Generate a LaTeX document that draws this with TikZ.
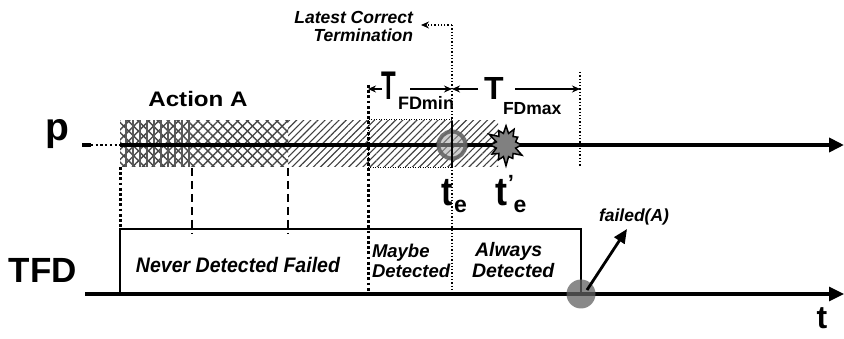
\documentclass[tikz,border=0pt]{standalone}
\usepackage{fontspec}
\setmainfont{Liberation Sans}
\usetikzlibrary{arrows.meta,patterns.meta,shapes.symbols}
\tikzset{
  fs/.style={font=\fontsize{#1}{#1}\selectfont\bfseries},
  fsi/.style={font=\fontsize{#1}{#1}\selectfont\bfseries\itshape},
  lbl/.style={inner sep=0pt, outer sep=0pt},
  thickdot/.style={line width=3pt, dash pattern=on 2.8pt off 2.4pt},
  thindot/.style={line width=1.3pt, dash pattern=on 1.3pt off 2pt},
  thindash/.style={line width=1.1pt, dash pattern=on 8pt off 5pt},
  axisp/.style={line width=4.5pt, -{Triangle[length=15pt,width=14pt]}},
  axist/.style={line width=3.2pt, -{Triangle[length=15pt,width=14pt]}},
  dimarrow/.style={line width=1.1pt, -{Stealth[length=8pt,width=7pt]}},
}
\newcommand{\subE}{\raisebox{-7pt}{\fontsize{23}{23}\selectfont e}}
\begin{document}
\begin{tikzpicture}[x=1pt,y=-1pt]
\useasboundingbox (0,0) rectangle (844,339);

% key coordinates
\coordinate (p0) at (120,145);
\coordinate (pend) at (844,145);
\coordinate (pdash0) at (82,145);
\coordinate (pdash1) at (91,145);
\coordinate (t0) at (85,294);
\coordinate (tend) at (844,294);
\coordinate (boxbl) at (120,294);
\coordinate (boxtl) at (120,229);
\coordinate (boxtr) at (581,229);
\coordinate (boxbr) at (581,294);

% hatching
\fill[pattern={Lines[angle=45,distance=5pt,line width=1.1pt]}, pattern color=black!75] (288,121) rectangle (498,167);
\fill[pattern={Lines[angle=45,distance=7pt,line width=1.4pt]}, pattern color=black!72] (120,121) rectangle (288,167);
\fill[pattern={Lines[angle=-45,distance=7pt,line width=1.4pt]}, pattern color=black!72] (120,121) rectangle (288,167);
\fill[pattern={Lines[angle=90,distance=7pt,line width=1.4pt]}, pattern color=black!65] (120,121) rectangle (192,167);

% dotted rectangle
\draw[line width=1pt, dash pattern=on 1pt off 1.5pt] (368,120) rectangle (452,168);

% p axis
\draw[line width=3.5pt] (pdash0) -- (pdash1);
\draw[line width=2.2pt, dash pattern=on 2.2pt off 2.5pt] (pdash1) -- (p0);
\draw[axisp] (p0) -- (pend);

% TFD axis and box
\draw[axist] (t0) -- (tend);
\draw[line width=2.2pt] (boxbl) -- (boxtl) -- (boxtr) -- (boxbr);

% verticals
\coordinate (v1a) at (120,167); \coordinate (v1b) at (120,229);
\draw[thickdot] (v1a) -- (v1b);
\coordinate (v2a) at (192,168); \coordinate (v2b) at (192,234);
\draw[thindash] (v2a) -- (v2b);
\coordinate (v3a) at (288,168); \coordinate (v3b) at (288,234);
\draw[thindash] (v3a) -- (v3b);
\coordinate (v4a) at (368,85); \coordinate (v4b) at (368,293);
\draw[thickdot] (v4a) -- (v4b);
\coordinate (v5a) at (452,25); \coordinate (v5b) at (452,293);
\draw[thindot] (v5a) -- (v5b);
\coordinate (v6a) at (580,72); \coordinate (v6b) at (580,166);
\draw[thindot] (v6a) -- (v6b);
\coordinate (lct) at (421,25);
\draw[thindot, -{Stealth[length=8pt,width=7pt]}] (v5a) -- (lct);

% te circle and solid mark
\node[circle, minimum size=27pt, inner sep=0pt, draw=black!60, line width=4pt, fill=black!35, fill opacity=0.55, draw opacity=0.9] (te) at (452,145) {};
\coordinate (tsa) at (452,122); \coordinate (tsb) at (452,168);
\draw[line width=2.2pt] (tsa) -- (tsb);

% starburst
\node[starburst, starburst points=12, starburst point height=10pt, minimum width=40pt, minimum height=44pt, fill=black!50, draw=black, line width=1.5pt, inner sep=0pt] (burst) at (506,145) {};

% dimension arrows
\coordinate (d1a) at (382,89); \coordinate (d1b) at (368,89);
\coordinate (d2a) at (410,89); \coordinate (d2b) at (452,89);
\coordinate (d3a) at (478,89); \coordinate (d3b) at (452,89);
\coordinate (d4a) at (515,89); \coordinate (d4b) at (580,89);
\draw[dimarrow] (d1a) -- (d1b);
\draw[dimarrow] (d2a) -- (d2b);
\draw[dimarrow] (d3a) -- (d3b);
\draw[dimarrow] (d4a) -- (d4b);

% failed circle and arrow
\node[circle, minimum size=29pt, inner sep=0pt, fill=black!62, fill opacity=0.75] (fail) at (581,294) {};
\coordinate (fa0) at (587,290);
\coordinate (fa1) at (627,229);
\draw[line width=2.8pt, -{Triangle[length=14pt,width=12pt]}] (fa0) -- (fa1);

% texts
\node[lbl, fs=39, anchor=base] (plabel) at (57,141) {p};
\node[lbl, fs=35, anchor=base west] (tfdlabel) at (9,283) {TFD};
\node[lbl, fs=32, anchor=base] (tlabel) at (822,328) {t};
\node[lbl, fs=21, anchor=base, xscale=1.15] (action) at (198,107) {Action A};
\node[lbl, fs=40, anchor=base, xscale=0.6] (T1) at (388.5,100) {T};
\node[lbl, fs=18, anchor=base west] (T1s) at (398,110) {FDmin};
\node[lbl, fs=32, anchor=base] (T2) at (494,100) {T};
\node[lbl, fs=17.5, anchor=base west] (T2s) at (503,115) {FDmax};
\node[lbl, fs=40, anchor=base west] (telabel) at (441.8,206) {\scalebox{0.85}[1]{t}\kern0.9pt\subE};
\node[lbl, fs=40, anchor=base west] (tplabel) at (495,206) {\scalebox{0.9}[1]{t}\kern1pt\raisebox{15pt}{\fontsize{22}{22}\selectfont'}\kern-0.5pt\subE};
\node[lbl, fsi=17.5, anchor=base east] (lc1) at (413,24) {Latest Correct};
\node[lbl, fsi=17.5, anchor=base east] (lc2) at (413,42) {Termination};
\node[lbl, fsi=21, anchor=base, xscale=0.93] (never) at (238,273) {Never Detected Failed};
\node[lbl, fsi=18.5, anchor=base west] (maybe1) at (372,258) {Maybe};
\node[lbl, fsi=18.5, anchor=base west] (maybe2) at (372,278) {Detected};
\node[lbl, fsi=19.5, anchor=base west] (alw1) at (475,257) {Always};
\node[lbl, fsi=19.5, anchor=base west] (alw2) at (472,278) {Detected};
\node[lbl, fsi=17.5, anchor=base] (failed) at (634,222) {failed(A)};
\end{tikzpicture}
\end{document}
